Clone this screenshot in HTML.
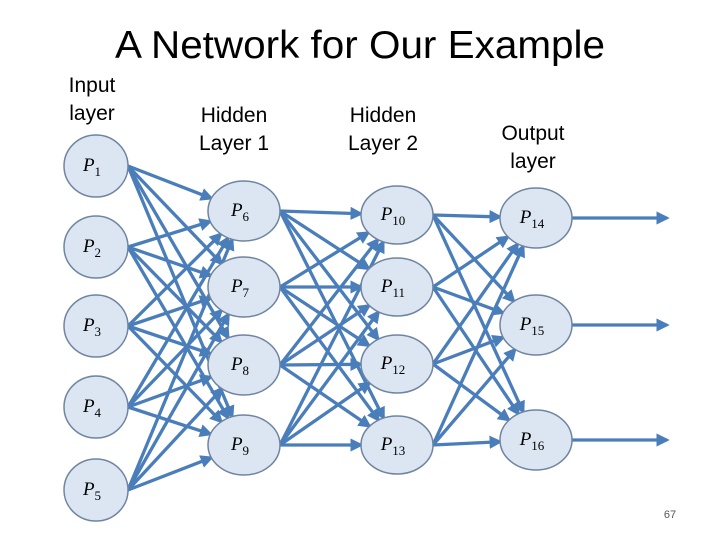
<!DOCTYPE html>
<html><head><meta charset="utf-8"><style>
html,body{margin:0;padding:0;background:#fff;}
svg{display:block;}
text{font-family:"Liberation Sans",sans-serif;}
.m{font-family:"Liberation Serif",serif;font-style:italic;}
</style></head><body>
<svg id="s" width="720" height="540" viewBox="0 0 720 540" xmlns="http://www.w3.org/2000/svg">
<defs><marker id="a" markerWidth="4" markerHeight="4" refX="3.2" refY="2" orient="auto" markerUnits="strokeWidth"><path d="M0,0 L4,2 L0,4 Z" fill="#4a7ebb"/></marker></defs>
<text x="360" y="58" font-size="39" text-anchor="middle" fill="#000" textLength="490" lengthAdjust="spacingAndGlyphs">A Network for Our Example</text>
<g font-size="21" fill="#000" text-anchor="middle">
<text x="92" y="92">Input</text><text x="92" y="120">layer</text>
<text x="234" y="122">Hidden</text><text x="234" y="150">Layer 1</text>
<text x="383" y="122">Hidden</text><text x="383" y="150">Layer 2</text>
<text x="533" y="140">Output</text><text x="533" y="168">layer</text>
</g>
<text x="670" y="518" font-size="11" fill="#555" text-anchor="middle">67</text>
<g id="e" stroke="#4a7ebb" stroke-width="3.3" fill="none"></g>
<g id="n"></g>
</svg>
<script>
var L=[
 {x:96,rx:32,ry:31,ys:[166,247,326,407,490],ids:[1,2,3,4,5]},
 {x:244,rx:36,ry:30,ys:[211,287,365,445],ids:[6,7,8,9]},
 {x:397,rx:36,ry:29,ys:[215,287,364,445],ids:[10,11,12,13]},
 {x:536,rx:36,ry:30,ys:[218,325,440],ids:[14,15,16]}];
var NS="http://www.w3.org/2000/svg",e=document.getElementById('e'),n=document.getElementById('n');
function line(x1,y1,x2,y2){var l=document.createElementNS(NS,'line');l.setAttribute('x1',x1);l.setAttribute('y1',y1);l.setAttribute('x2',x2);l.setAttribute('y2',y2);l.setAttribute('marker-end','url(#a)');e.appendChild(l);}
for(var i=0;i<3;i++){var A=L[i],B=L[i+1];A.ys.forEach(function(y1){var x1=A.x+A.rx;B.ys.forEach(function(y2){
 var dx=B.x-x1,dy=y2-y1;var t=1/Math.sqrt((dx*dx)/(B.rx*B.rx)+(dy*dy)/(B.ry*B.ry));
 line(x1,y1,B.x-dx*t,y2-dy*t);});});}
L[3].ys.forEach(function(y){line(572,y,667,y);});
L.forEach(function(c){c.ys.forEach(function(y,j){
 var el=document.createElementNS(NS,'ellipse');el.setAttribute('cx',c.x);el.setAttribute('cy',y);el.setAttribute('rx',c.rx);el.setAttribute('ry',c.ry);el.setAttribute('fill','#dce6f2');el.setAttribute('stroke','#6f84a0');el.setAttribute('stroke-width','1.5');n.appendChild(el);
 var t=document.createElementNS(NS,'text');t.setAttribute('x',c.x-4);t.setAttribute('y',y+5);t.setAttribute('text-anchor','middle');t.setAttribute('font-size','19');t.setAttribute('class','m');
 t.innerHTML='P<tspan font-size="13" dy="5" font-style="normal">'+c.ids[j]+'</tspan>';n.appendChild(t);});});
</script>
</body></html>
